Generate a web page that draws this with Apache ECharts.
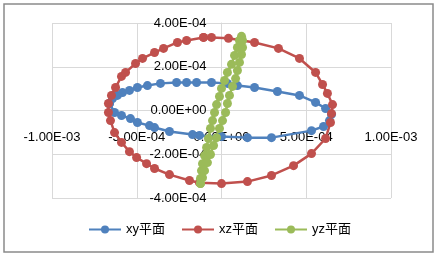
<!DOCTYPE html>
<html><head><meta charset="utf-8">
<script src="https://cdn.jsdelivr.net/npm/echarts@6/dist/echarts.min.js"></script>
<style>html,body{margin:0;padding:0;background:#fff}#c{width:439px;height:257px}</style>
</head><body><div id="c"></div>
<script>
// xy plane
const xyX = [-6.61e-4,-6.43e-4,-6.14e-4,-5.84e-4,-5.43e-4,-4.96e-4,-4.37e-4,-3.60e-4,-2.65e-4,-2.06e-4,-1.47e-4,-0.59e-4,0.35e-4,0.94e-4,1.95e-4,3.30e-4,4.60e-4,5.55e-4,6.14e-4,6.49e-4,6.37e-4,6.02e-4,5.31e-4,2.95e-4,1.53e-4,0,-1.30e-4,-1.71e-4,-3.07e-4,-3.95e-4,-4.25e-4,-4.96e-4,-5.37e-4,-5.90e-4,-6.31e-4,-6.61e-4];
const xyY = [0.32e-4,0.55e-4,0.69e-4,0.82e-4,0.92e-4,1.05e-4,1.14e-4,1.24e-4,1.28e-4,1.28e-4,1.28e-4,1.28e-4,1.24e-4,1.14e-4,1.05e-4,0.87e-4,0.69e-4,0.37e-4,0.09e-4,-0.18e-4,-0.46e-4,-0.73e-4,-0.92e-4,-1.24e-4,-1.24e-4,-1.19e-4,-1.14e-4,-1.10e-4,-0.96e-4,-0.78e-4,-0.69e-4,-0.55e-4,-0.37e-4,-0.23e-4,-0.09e-4,0.32e-4];
// xz plane
const xzX = [-1.06e-4,-0.59e-4,0.41e-4,1.95e-4,3.36e-4,4.60e-4,5.55e-4,5.96e-4,6.25e-4,6.55e-4,6.49e-4,6.43e-4,6.14e-4,5.31e-4,4.25e-4,2.95e-4,1.53e-4,0,-1.30e-4,-1.89e-4,-3.07e-4,-3.95e-4,-4.42e-4,-5.01e-4,-5.43e-4,-5.90e-4,-6.31e-4,-6.55e-4,-6.67e-4,-6.67e-4,-6.49e-4,-6.25e-4,-5.90e-4,-5.66e-4,-5.07e-4,-4.66e-4,-3.95e-4,-3.42e-4,-2.60e-4,-2.06e-4,-1.06e-4];
const xzY = [3.34e-4,3.34e-4,3.30e-4,3.11e-4,2.84e-4,2.38e-4,1.74e-4,1.19e-4,0.78e-4,0.27e-4,-0.14e-4,-0.55e-4,-1.28e-4,-1.97e-4,-2.52e-4,-2.97e-4,-3.25e-4,-3.34e-4,-3.30e-4,-3.20e-4,-2.93e-4,-2.65e-4,-2.43e-4,-2.15e-4,-1.88e-4,-1.46e-4,-1.01e-4,-0.46e-4,-0.09e-4,0.32e-4,0.69e-4,1.05e-4,1.56e-4,1.74e-4,2.15e-4,2.38e-4,2.65e-4,2.84e-4,3.11e-4,3.20e-4,3.34e-4];
// yz plane
const yzX = [-1.24e-4,-1.24e-4,-1.18e-4,-1.12e-4,-1.00e-4,-0.88e-4,-0.77e-4,-0.65e-4,-0.53e-4,-0.41e-4,-0.29e-4,-0.12e-4,0,0.18e-4,0.35e-4,0.59e-4,0.77e-4,0.94e-4,1.06e-4,1.18e-4,1.24e-4,1.24e-4,1.18e-4,1.06e-4,0.94e-4,0.83e-4,0.65e-4,0.47e-4,0.35e-4,0.24e-4,0.06e-4,-0.12e-4,-0.29e-4,-0.47e-4,-0.65e-4,-0.83e-4,-1.00e-4,-1.12e-4,-1.24e-4];
const yzY = [-3.34e-4,-3.11e-4,-2.75e-4,-2.43e-4,-2.06e-4,-1.69e-4,-1.28e-4,-0.82e-4,-0.46e-4,-0.09e-4,0.27e-4,0.64e-4,1.01e-4,1.37e-4,1.74e-4,2.11e-4,2.52e-4,2.88e-4,3.20e-4,3.39e-4,3.20e-4,2.88e-4,2.56e-4,2.20e-4,1.83e-4,1.46e-4,1.10e-4,0.69e-4,0.32e-4,-0.09e-4,-0.46e-4,-0.82e-4,-1.24e-4,-1.60e-4,-2.01e-4,-2.38e-4,-2.75e-4,-3.07e-4,-3.34e-4];
const seriesNames = ['xy平面','xz平面','yz平面'];
const colors = ['#4F81BD','#C0504D','#9BBB59'];

function sci(v){
  if (Math.abs(v) < 1e-12) return '0.00E+00';
  let e = Math.floor(Math.log10(Math.abs(v)) + 1e-9);
  let m = v / Math.pow(10, e);
  if (Math.abs(m) >= 9.995) { e += 1; m = v / Math.pow(10, e); }
  const ae = Math.abs(e);
  return m.toFixed(2) + 'E' + (e < 0 ? '-' : '+') + (ae < 10 ? '0' + ae : ae);
}
const zip = (xs, ys) => xs.map((x, i) => [x, ys[i]]);
const font = '"Liberation Sans","Noto Sans CJK SC",sans-serif';
const W = 439, H = 257, GL = 52, GR = 48, GT = 23, GB = 59;
const XMIN = -1e-3, XMAX = 1e-3, YMIN = -4e-4, YMAX = 4e-4;
const plotW = W - GL - GR, plotH = H - GT - GB;
// offsets to place the axes at the zero crossing of the other axis
const xAxisOffset = -(plotH * (0 - YMIN) / (YMAX - YMIN));
const yAxisOffset = -(plotW * (0 - XMIN) / (XMAX - XMIN));
const chart = echarts.init(document.getElementById('c'), null, {renderer:'canvas'});
const mk = (name, xs, ys, c) => ({
  name, type:'line', data: zip(xs, ys), color: c,
  symbol:'circle', symbolSize: 9, showSymbol: true,
  lineStyle:{width:2.5, color:c}, itemStyle:{color:c},
  animation:false
});
chart.setOption({
  animation:false,
  backgroundColor:'#fff',
  graphic:[{type:'rect', shape:{x:4, y:4, width:429, height:248}, style:{fill:'none', stroke:'#8a8a8a', lineWidth:1.5}, silent:true}],
  grid:{left:GL, right:GR, top:GT, bottom:GB},
  legend:{
    bottom: 16, left:'center', itemWidth:32, itemHeight:10, itemGap:16,
    textStyle:{fontFamily:font, fontSize:13, color:'#000'},
    data: seriesNames
  },
  xAxis:{
    type:'value', min:XMIN, max:XMAX, interval:5e-4, position:'bottom', offset:xAxisOffset,
    axisLine:{show:true, onZero:false, lineStyle:{color:'#d9d9d9', width:1}},
    axisTick:{show:false},
    splitLine:{show:true, lineStyle:{color:'#d9d9d9', width:1}},
    axisLabel:{formatter:sci, margin:20, color:'#000', fontFamily:font, fontSize:13}
  },
  yAxis:{
    type:'value', min:YMIN, max:YMAX, interval:2e-4, position:'left', offset:yAxisOffset,
    axisLine:{show:true, onZero:false, lineStyle:{color:'#d9d9d9', width:1}},
    axisTick:{show:false},
    splitLine:{show:true, lineStyle:{color:'#d9d9d9', width:1}},
    axisLabel:{formatter:sci, margin:15, color:'#000', fontFamily:font, fontSize:13}
  },
  series:[
    mk(seriesNames[0], xyX, xyY, colors[0]),
    mk(seriesNames[1], xzX, xzY, colors[1]),
    mk(seriesNames[2], yzX, yzY, colors[2])
  ]
});
</script></body></html>
